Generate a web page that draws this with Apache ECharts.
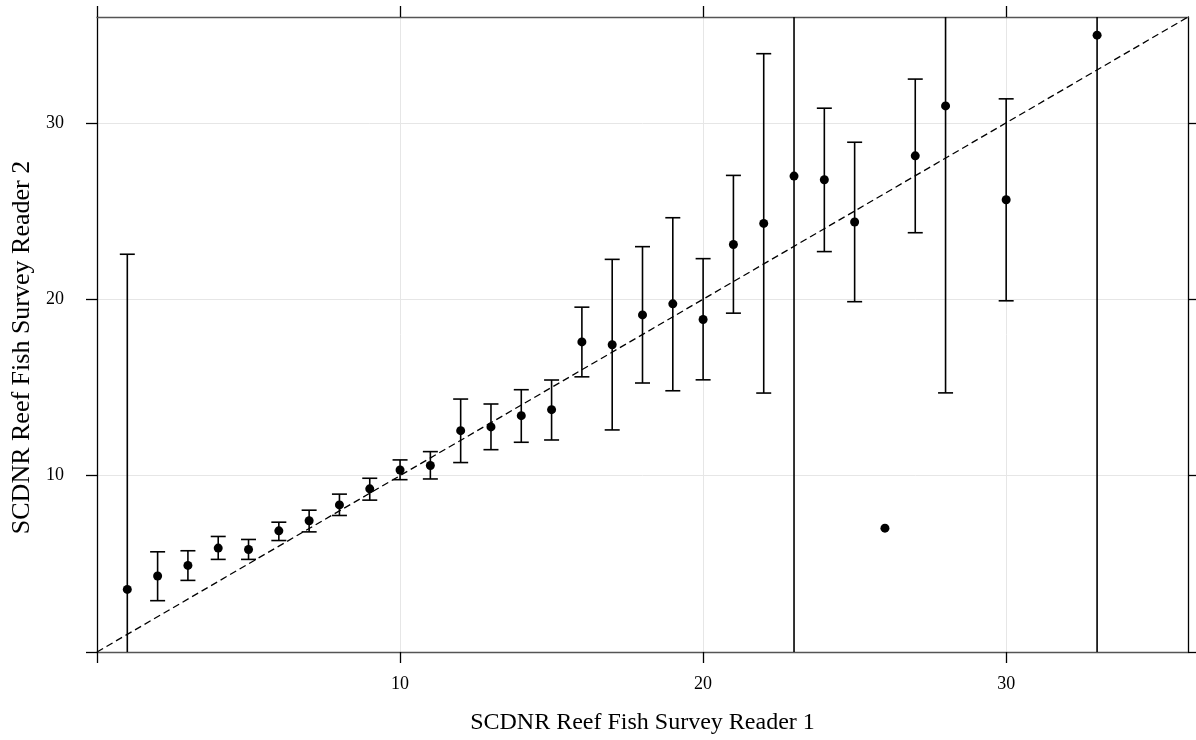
<!DOCTYPE html>
<html>
<head>
<meta charset="utf-8">
<script src="https://cdn.jsdelivr.net/npm/echarts@6/dist/echarts.min.js"></script>
<style>
  html, body { margin: 0; padding: 0; background: #fff; }
  #chart { width: 1196px; height: 740px; }
</style>
</head>
<body>
<div id="chart"></div>
<script>
// reader 1 age (x), mean reader 2 age and its interval
var reader1 = [1, 2, 3, 4, 5, 6, 7, 8, 9, 10, 11, 12, 13, 14, 15, 16, 17, 18, 19, 20, 21, 22, 23, 24, 25, 26, 27, 28, 30, 33];
var meanReader2 = [3.55, 4.31, 4.91, 5.89, 5.81, 6.87, 7.44, 8.34, 9.25, 10.32, 10.57, 12.55, 12.76, 13.40, 13.74,
  17.58, 17.42, 19.11, 19.74, 18.85, 23.10, 24.30, 26.98, 26.77, 24.38, 7.02, 28.13, 30.96, 25.64, 34.97];
var upper = [22.55, 5.68, 5.74, 6.55, 6.38, 7.36, 8.04, 8.95, 9.85, 10.89, 11.36, 14.34, 14.06, 14.87, 15.42,
  19.55, 22.26, 22.98, 24.62, 22.30, 27.02, 33.92, 70, 30.83, 28.90, null, 32.48, 47.23, 31.36, 80];
var lower = [-15.45, 2.91, 4.06, 5.25, 5.25, 6.32, 6.81, 7.74, 8.61, 9.77, 9.81, 10.74, 11.47, 11.89, 12.02,
  15.60, 12.59, 15.25, 14.81, 15.43, 19.21, 14.68, -16, 22.70, 19.86, null, 23.77, 14.69, 19.91, -10];
var tickValues = [0, 10, 20, 30];
var labelValues = [10, 20, 30];
var identityLine = [[0, 0], [36, 36]];

var font = 'Liberation Serif';

var points = [];
var bars = [];
for (var i = 0; i < reader1.length; i++) {
  points.push([reader1[i], meanReader2[i]]);
  if (upper[i] != null) bars.push([reader1[i], lower[i], upper[i]]);
}

function tickFmt(v) {
  return labelValues.indexOf(v) >= 0 ? String(v) : '';
}

function baseAxis(lineColor, extra) {
  var a = {
    type: 'value',
    min: 0,
    max: 36,
    interval: 10,
    axisLine: { show: true, onZero: false, lineStyle: { color: lineColor, width: 1.3 } },
    axisTick: { show: true, inside: false, length: 11, customValues: tickValues, lineStyle: { color: '#000', width: 1.3 } },
    splitLine: { show: false },
    axisLabel: { show: false }
  };
  for (var k in extra) a[k] = extra[k];
  return a;
}

var chart = echarts.init(document.getElementById('chart'));
chart.setOption({
  animation: false,
  backgroundColor: '#fff',
  grid: { left: 97, right: 8, top: 17, bottom: 88 },
  xAxis: [
    baseAxis('#555', {
      position: 'bottom',
      name: 'SCDNR Reef Fish Survey Reader 1',
      nameLocation: 'middle',
      nameGap: 59,
      nameTextStyle: { fontFamily: font, fontSize: 24, color: '#000' },
      splitLine: { show: true, lineStyle: { color: '#e6e6e6', width: 1 } },
      axisLabel: { show: true, formatter: tickFmt, customValues: labelValues, margin: 23, fontFamily: font, fontSize: 18, color: '#000' }
    }),
    baseAxis('#555', { position: 'top' })
  ],
  yAxis: [
    baseAxis('#000', {
      position: 'left',
      name: 'SCDNR Reef Fish Survey Reader 2',
      nameLocation: 'middle',
      nameGap: 62,
      nameTextStyle: { fontFamily: font, fontSize: 26, color: '#000', padding: [0, 26, 0, 0] },
      splitLine: { show: true, lineStyle: { color: '#e6e6e6', width: 1 } },
      axisLabel: { show: true, formatter: tickFmt, customValues: labelValues, margin: 33, fontFamily: font, fontSize: 18, color: '#000' }
    }),
    baseAxis('#000', { position: 'right' })
  ],
  series: [
    {
      type: 'line',
      data: identityLine,
      showSymbol: false,
      symbol: 'none',
      silent: true,
      lineStyle: { color: '#000', width: 1.3, type: [7, 4] },
      z: 2
    },
    {
      type: 'custom',
      clip: true,
      data: bars,
      renderItem: function (params, api) {
        var x = api.value(0);
        var lo = api.coord([x, api.value(1)]);
        var hi = api.coord([x, api.value(2)]);
        var cap = 7.5;
        var style = { stroke: '#000', lineWidth: 1.6 };
        return {
          type: 'group',
          children: [
            { type: 'line', shape: { x1: lo[0], y1: lo[1], x2: hi[0], y2: hi[1] }, style: style },
            { type: 'line', shape: { x1: lo[0] - cap, y1: lo[1], x2: lo[0] + cap, y2: lo[1] }, style: style },
            { type: 'line', shape: { x1: hi[0] - cap, y1: hi[1], x2: hi[0] + cap, y2: hi[1] }, style: style }
          ]
        };
      },
      z: 3
    },
    {
      type: 'scatter',
      data: points,
      symbol: 'circle',
      symbolSize: 9,
      itemStyle: { color: '#000', opacity: 1 },
      z: 4
    }
  ]
});
</script>
</body>
</html>
